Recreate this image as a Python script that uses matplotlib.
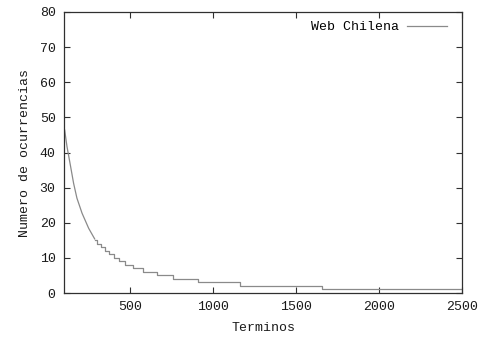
import matplotlib

matplotlib.use("Agg")
import matplotlib.pyplot as plt
import numpy as np

# Smooth head of the rank/frequency curve.
HEAD_RANK = [100, 104, 118, 138, 158, 178, 209, 249, 285]
HEAD_COUNT = [47, 46.4, 41.7, 36.5, 31.2, 27.0, 22.7, 18.4, 15.4]

# Staircase tail: rank where each integer count level begins.
STEP_RANK = [285, 301, 322, 348, 374, 404, 434, 470, 515, 579, 660, 757, 910, 1160, 1655]
STEP_COUNT = [15, 14, 13, 12, 11, 10, 9, 8, 7, 6, 5, 4, 3, 2, 1]
RANK_END = 2500

X_TICKS = [500, 1000, 1500, 2000, 2500]
Y_TICKS = [0, 10, 20, 30, 40, 50, 60, 70, 80]

LINE = "#8a8a8a"
FRAME = "#303030"

plt.rcParams["font.family"] = ["Liberation Mono", "DejaVu Sans Mono"]
plt.rcParams["font.size"] = 9.5

fig = plt.figure(figsize=(4.83, 3.38), dpi=100)
ax = fig.add_axes([0.1325, 0.1331, 0.824, 0.8314])

ax.plot(HEAD_RANK, HEAD_COUNT, color=LINE, lw=0.9, label="Web Chilena")
ax.step(STEP_RANK + [RANK_END], STEP_COUNT + [STEP_COUNT[-1]],
        where="post", color=LINE, lw=0.9)

ax.set_xlim(100, 2500)
ax.set_ylim(0, 80)
ax.set_xticks(X_TICKS)
ax.set_yticks(Y_TICKS)
ax.tick_params(direction="in", length=4, width=0.8, color=FRAME,
               top=True, right=True, pad=6, labelcolor="#1a1a1a")
for s in ax.spines.values():
    s.set_color(FRAME)
    s.set_linewidth(0.9)

ax.set_xlabel("Terminos", labelpad=6, color="#1a1a1a")
ax.set_ylabel("Numero de ocurrencias", labelpad=6, color="#1a1a1a")

leg = ax.legend(loc="upper right", frameon=False, markerfirst=False,
                handlelength=3.0, handletextpad=0.6, borderaxespad=0.3,
                bbox_to_anchor=(0.985, 1.0))

fig.savefig("out.png", dpi=100)
